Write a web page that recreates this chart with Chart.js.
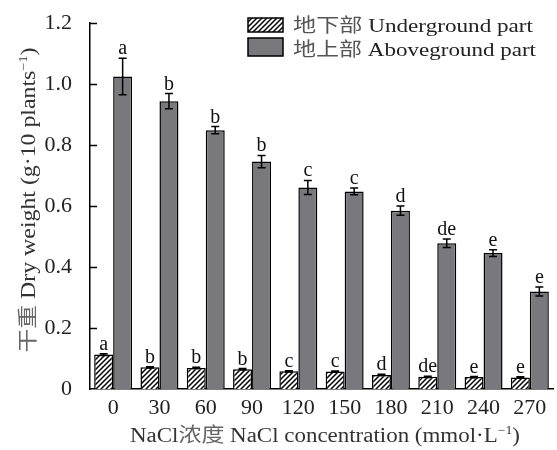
<!DOCTYPE html>
<html>
<head>
<meta charset="utf-8">
<script src="https://cdn.jsdelivr.net/npm/chart.js@4.4.1/dist/chart.umd.min.js"></script>
<style>
  body { margin: 0; background: #fff; }
</style>
</head>
<body>
<canvas id="dryChart" width="557" height="450"></canvas>
<script>
// NaCl concentrations (mmol/L) and dry weights (g per 10 plants)
const concentrations = ['0', '30', '60', '90', '120', '150', '180', '210', '240', '270'];
const undergroundValues = [0.113, 0.071, 0.069, 0.065, 0.058, 0.057, 0.046, 0.040, 0.039, 0.038];
const undergroundErrors = [0.003, 0.002, 0.002, 0.002, 0.002, 0.002, 0.002, 0.002, 0.002, 0.002];
const undergroundLetters = ['a', 'b', 'b', 'b', 'c', 'c', 'd', 'de', 'e', 'e'];
const abovegroundValues = [1.025, 0.944, 0.849, 0.746, 0.661, 0.648, 0.585, 0.478, 0.446, 0.320];
const abovegroundErrors = [0.060, 0.025, 0.012, 0.020, 0.023, 0.011, 0.015, 0.014, 0.011, 0.015];
const abovegroundLetters = ['a', 'b', 'b', 'b', 'c', 'c', 'd', 'de', 'e', 'e'];
const yTickLabels = ['0', '0.2', '0.4', '0.6', '0.8', '1.0', '1.2'];

const SERIF = '"Liberation Serif", "Noto Sans CJK SC", serif';
const GRAY = '#79797d';

// diagonal hatch for the underground bars
function makeHatch() {
    const c = document.createElement('canvas');
    c.width = 5; c.height = 5;
    const g = c.getContext('2d');
    g.fillStyle = '#fff';
    g.fillRect(0, 0, 5, 5);
    g.strokeStyle = '#000';
    g.lineWidth = 1.5;
    g.beginPath();
    g.moveTo(-1, 6); g.lineTo(6, -1);
    g.moveTo(-1, 1); g.lineTo(1, -1);
    g.moveTo(4, 6); g.lineTo(6, 4);
    g.stroke();
    return g.createPattern(c, 'repeat');
}
const hatch = makeHatch();

// draw text made of pieces (some raised as superscript), stretched to a target width
function drawPieces(ctx, pieces, x, y, size, align, width) {
    let total = 0;
    pieces.forEach(p => {
        ctx.font = (p.sup ? size * 0.6 : size) + 'px ' + SERIF;
        p.w = ctx.measureText(p.t).width;
        total += p.w;
    });
    const sx = width ? width / total : 1;
    ctx.save();
    ctx.translate(align === 'center' ? x - total * sx / 2 : x, y);
    ctx.scale(sx, 1);
    ctx.textAlign = 'left';
    ctx.textBaseline = 'alphabetic';
    let cx = 0;
    pieces.forEach(p => {
        ctx.font = (p.sup ? size * 0.6 : size) + 'px ' + SERIF;
        ctx.fillStyle = p.c || '#222';
        ctx.fillText(p.t, cx, p.sup ? -size * 0.42 : 0);
        cx += p.w;
    });
    ctx.restore();
}

const errorBarPlugin = {
    id: 'errorBars',
    afterDatasetsDraw(chart) {
        const ctx = chart.ctx;
        const yScale = chart.scales.y;
        const sets = [
            { vals: undergroundValues, errs: undergroundErrors, letters: undergroundLetters },
            { vals: abovegroundValues, errs: abovegroundErrors, letters: abovegroundLetters }
        ];
        ctx.save();
        sets.forEach((s, i) => {
            const meta = chart.getDatasetMeta(i);
            meta.data.forEach((bar, j) => {
                const top = yScale.getPixelForValue(s.vals[j] + s.errs[j]);
                const bot = yScale.getPixelForValue(s.vals[j] - s.errs[j]);
                ctx.strokeStyle = '#000';
                ctx.lineWidth = 1.5;
                ctx.beginPath();
                ctx.moveTo(bar.x, top); ctx.lineTo(bar.x, bot);
                ctx.moveTo(bar.x - 4, top); ctx.lineTo(bar.x + 4, top);
                ctx.moveTo(bar.x - 4, bot); ctx.lineTo(bar.x + 4, bot);
                ctx.stroke();
                drawPieces(ctx, [{ t: s.letters[j], c: '#111' }], bar.x, top - 4, 20, 'center');
            });
        });
        ctx.restore();
    },
    afterDraw(chart) {
        const ctx = chart.ctx;
        const area = chart.chartArea;
        const yScale = chart.scales.y;
        ctx.save();
        // inward ticks on the y axis
        ctx.strokeStyle = '#000';
        ctx.lineWidth = 1.5;
        ctx.beginPath();
        yScale.ticks.forEach(t => {
            if (t.value === 0) return;
            const py = Math.round(yScale.getPixelForValue(t.value)) + 0.5;
            ctx.moveTo(area.left, py);
            ctx.lineTo(area.left + 7, py);
        });
        ctx.stroke();

        // axis titles
        drawPieces(ctx, [
            { t: 'NaCl', c: '#333' }, { t: '浓度', c: '#666' },
            { t: ' NaCl concentration (mmol·L', c: '#333' },
            { t: '−1', sup: true, c: '#333' }, { t: ')', c: '#333' }
        ], 325, 442, 20, 'center', 390);

        ctx.save();
        ctx.translate(35, 200);
        ctx.rotate(-Math.PI / 2);
        drawPieces(ctx, [
            { t: '干重', c: '#666' },
            { t: ' Dry weight (g·10 plants', c: '#333' },
            { t: '−1', sup: true, c: '#333' }, { t: ')', c: '#333' }
        ], 0, 0, 20, 'center', 305);
        ctx.restore();

        // legend
        ctx.lineWidth = 1.5;
        ctx.strokeStyle = '#000';
        ctx.fillStyle = hatch;
        ctx.fillRect(248, 18, 35, 14);
        ctx.strokeRect(248, 18, 35, 14);
        ctx.fillStyle = GRAY;
        ctx.fillRect(248, 38, 35, 18);
        ctx.strokeRect(248, 38, 35, 18);
        drawPieces(ctx, [{ t: '地下部', c: '#555' }, { t: ' Underground part', c: '#222' }], 293, 32, 19, 'left', 240);
        drawPieces(ctx, [{ t: '地上部', c: '#555' }, { t: ' Aboveground part', c: '#222' }], 293, 56, 19, 'left', 243);
        ctx.restore();
    }
};

const ctx = document.getElementById('dryChart').getContext('2d');
const dryChart = new Chart(ctx, {
    type: 'bar',
    data: {
        labels: concentrations,
        datasets: [{
            label: '地下部 Underground part',
            data: undergroundValues,
            backgroundColor: hatch,
            borderColor: '#000',
            borderWidth: 1.5,
            categoryPercentage: 0.82,
            barPercentage: 1.0
        }, {
            label: '地上部 Aboveground part',
            data: abovegroundValues,
            backgroundColor: GRAY,
            borderColor: '#000',
            borderWidth: 1.5,
            categoryPercentage: 0.82,
            barPercentage: 1.0
        }]
    },
    options: {
        responsive: false,
        devicePixelRatio: 1,
        animation: false,
        layout: { padding: { top: 17, right: 4, left: 0, bottom: 0 } },
        plugins: {
            legend: { display: false },
            tooltip: { enabled: false }
        },
        scales: {
            x: {
                grid: { display: false },
                border: { display: true, color: '#000', width: 1.5 },
                ticks: { color: '#222', font: { family: SERIF, size: 22 }, padding: -2 },
                afterFit: scale => { scale.height = 61; }
            },
            y: {
                min: 0,
                max: 1.2,
                grid: { display: false },
                border: { display: true, color: '#000', width: 1.5 },
                ticks: {
                    stepSize: 0.2,
                    color: '#222',
                    font: { family: SERIF, size: 22 },
                    padding: 10,
                    callback: (v, i) => yTickLabels[i]
                },
                afterFit: scale => { scale.width = 90; }
            }
        }
    },
    plugins: [errorBarPlugin]
});
</script>
</body>
</html>
